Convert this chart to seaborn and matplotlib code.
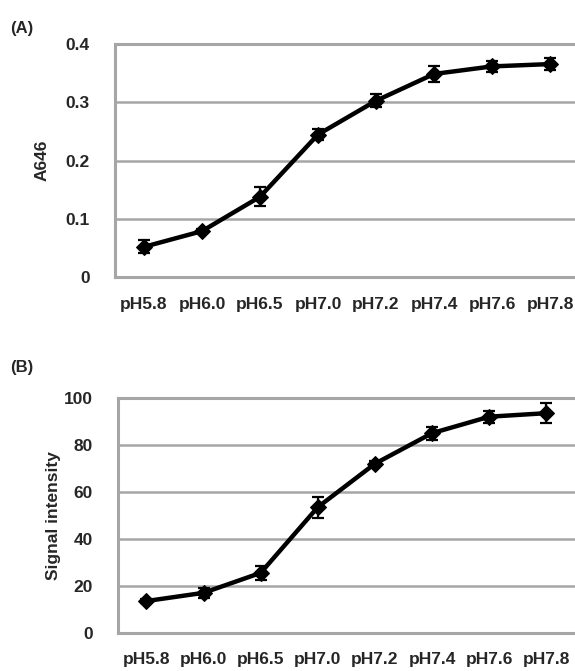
import numpy as np
import pandas as pd
import matplotlib
matplotlib.use("Agg")
import matplotlib.pyplot as plt
import seaborn as sns

# data
ph_labels = ["pH5.8", "pH6.0", "pH6.5", "pH7.0", "pH7.2", "pH7.4", "pH7.6", "pH7.8"]
a646_mean = [0.052, 0.079, 0.138, 0.245, 0.303, 0.349, 0.362, 0.366]
a646_err = [0.011, 0.004, 0.016, 0.010, 0.011, 0.014, 0.009, 0.010]
signal_mean = [13.5, 17.0, 25.5, 53.5, 72.0, 85.0, 92.0, 93.5]
signal_err = [1.0, 2.0, 3.0, 4.5, 1.0, 2.8, 2.5, 4.3]

sns.set_style("white")
plt.rcParams["font.family"] = ["Liberation Sans", "DejaVu Sans"]
plt.rcParams["font.weight"] = "bold"

GRID = "#a6a6a6"
FS = 12.5


def draw_panel(ax, means, errs, ylim, yticks, ylabel, ticklabels, labelpad):
   df = pd.DataFrame({"pos": np.arange(len(ph_labels)), "val": means})
   ax.errorbar(df["pos"], df["val"], yerr=errs, fmt="none", ecolor="black",
               elinewidth=1.6, capsize=4, capthick=1.6, zorder=3)
   sns.lineplot(data=df, x="pos", y="val", ax=ax, color="black", linewidth=3.2,
                marker="D", markersize=8, markeredgecolor="black", zorder=4)
   ax.set_xlim(-0.5, len(ph_labels) - 0.5)
   ax.set_ylim(*ylim)
   ax.set_yticks(yticks)
   ax.set_yticklabels(ticklabels, fontsize=FS, fontweight="bold")
   ax.set_xticks(df["pos"])
   ax.set_xticklabels(ph_labels, fontsize=FS, fontweight="bold")
   ax.set_xlabel("")
   ax.set_ylabel(ylabel, fontsize=FS, fontweight="bold", labelpad=labelpad)
   ax.tick_params(axis="y", length=0, pad=18)
   ax.tick_params(axis="x", length=0, pad=14)
   ax.grid(axis="y", color=GRID, linewidth=1.8)
   ax.set_axisbelow(True)
   for side in ["left", "bottom", "top"]:
      ax.spines[side].set_color(GRID)
      ax.spines[side].set_linewidth(2.2)
   ax.spines["right"].set_visible(False)


fig = plt.figure(figsize=(5.75, 6.71), dpi=100)

ax_a = fig.add_axes([0.200, 0.587, 0.807, 0.347])
draw_panel(ax_a, a646_mean, a646_err, (0, 0.4), [0, 0.1, 0.2, 0.3, 0.4], "A646",
           ["0", "0.1", "0.2", "0.3", "0.4"], 12)

ax_b = fig.add_axes([0.205, 0.057, 0.795, 0.350])
draw_panel(ax_b, signal_mean, signal_err, (0, 100), [0, 20, 40, 60, 80, 100],
           "Signal intensity", ["0", "20", "40", "60", "80", "100"], 2)

fig.text(0.017, 0.958, "(A)", fontsize=12, fontweight="bold", va="center")
fig.text(0.017, 0.452, "(B)", fontsize=12, fontweight="bold", va="center")

fig.savefig("out.png", dpi=100)
